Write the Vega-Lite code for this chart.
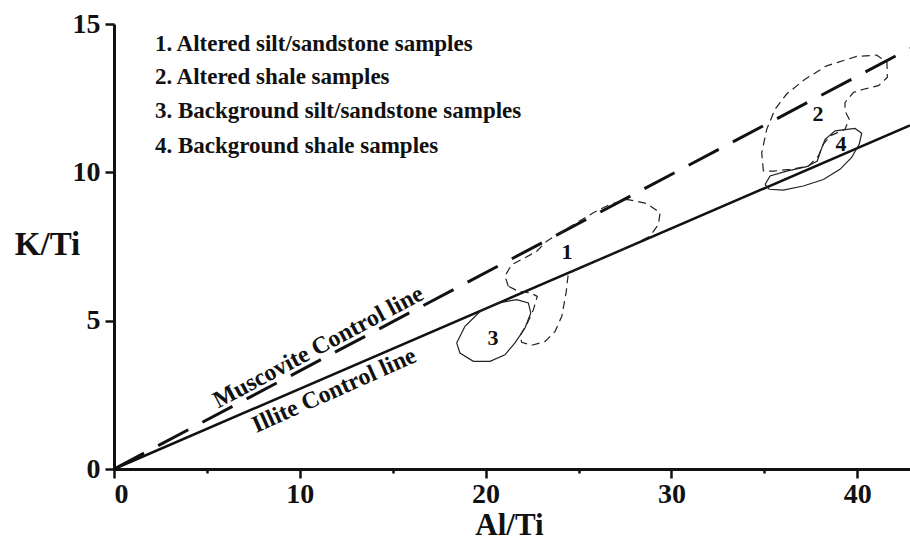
{
  "$schema": "https://vega.github.io/schema/vega-lite/v6.json",
  "width": 796,
  "height": 445,
  "autosize": {"type": "none"},
  "padding": {"left": 114, "top": 24, "right": 0, "bottom": 73},
  "background": "white",
  "config": {"view": {"stroke": null}, "font": "Liberation Serif"},
  "datasets": {
    "lines": [
      {"series": "Illite", "x": 0, "y": 0},
      {"series": "Illite", "x": 42.84, "y": 11.58},
      {"series": "Muscovite", "x": 0, "y": 0},
      {"series": "Muscovite", "x": 42.84, "y": 14.18}
    ],
    "regions": [
      {"region": 1, "o": 1, "x": 21.22, "y": 6.16},
      {"region": 1, "o": 2, "x": 21.04, "y": 6.5},
      {"region": 1, "o": 3, "x": 21.4, "y": 6.89},
      {"region": 1, "o": 4, "x": 22.12, "y": 7.12},
      {"region": 1, "o": 5, "x": 22.75, "y": 7.34},
      {"region": 1, "o": 6, "x": 23.29, "y": 7.68},
      {"region": 1, "o": 7, "x": 24.0, "y": 7.96},
      {"region": 1, "o": 8, "x": 24.9, "y": 8.3},
      {"region": 1, "o": 9, "x": 25.8, "y": 8.64},
      {"region": 1, "o": 10, "x": 26.7, "y": 8.92},
      {"region": 1, "o": 11, "x": 27.59, "y": 9.09},
      {"region": 1, "o": 12, "x": 28.67, "y": 8.95},
      {"region": 1, "o": 13, "x": 29.39, "y": 8.64},
      {"region": 1, "o": 14, "x": 29.3, "y": 8.24},
      {"region": 1, "o": 15, "x": 28.85, "y": 7.85},
      {"region": 1, "o": 16, "x": 27.59, "y": 7.46},
      {"region": 1, "o": 17, "x": 26.16, "y": 7.06},
      {"region": 1, "o": 18, "x": 24.45, "y": 6.59},
      {"region": 1, "o": 19, "x": 24.33, "y": 5.94},
      {"region": 1, "o": 20, "x": 24.1, "y": 5.15},
      {"region": 1, "o": 21, "x": 23.74, "y": 4.64},
      {"region": 1, "o": 22, "x": 23.2, "y": 4.3},
      {"region": 1, "o": 23, "x": 22.48, "y": 4.17},
      {"region": 1, "o": 24, "x": 21.94, "y": 4.27},
      {"region": 1, "o": 25, "x": 21.85, "y": 4.49},
      {"region": 1, "o": 26, "x": 22.25, "y": 4.92},
      {"region": 1, "o": 27, "x": 22.57, "y": 5.37},
      {"region": 1, "o": 28, "x": 22.78, "y": 5.82},
      {"region": 1, "o": 29, "x": 22.39, "y": 5.94},
      {"region": 1, "o": 30, "x": 21.76, "y": 5.99},
      {"region": 1, "o": 31, "x": 21.22, "y": 6.16},
      {"region": 2, "o": 1, "x": 34.95, "y": 10.04},
      {"region": 2, "o": 2, "x": 34.86, "y": 10.66},
      {"region": 2, "o": 3, "x": 35.13, "y": 11.45},
      {"region": 2, "o": 4, "x": 35.58, "y": 12.13},
      {"region": 2, "o": 5, "x": 36.2, "y": 12.64},
      {"region": 2, "o": 6, "x": 37.19, "y": 13.14},
      {"region": 2, "o": 7, "x": 38.36, "y": 13.59},
      {"region": 2, "o": 8, "x": 39.97, "y": 13.91},
      {"region": 2, "o": 9, "x": 41.05, "y": 13.95},
      {"region": 2, "o": 10, "x": 41.6, "y": 13.71},
      {"region": 2, "o": 11, "x": 41.62, "y": 13.2},
      {"region": 2, "o": 12, "x": 41.14, "y": 12.92},
      {"region": 2, "o": 13, "x": 40.33, "y": 12.8},
      {"region": 2, "o": 14, "x": 39.79, "y": 12.69},
      {"region": 2, "o": 15, "x": 39.34, "y": 12.35},
      {"region": 2, "o": 16, "x": 39.34, "y": 12.07},
      {"region": 2, "o": 17, "x": 39.57, "y": 11.79},
      {"region": 2, "o": 18, "x": 39.34, "y": 11.45},
      {"region": 2, "o": 19, "x": 38.54, "y": 11.23},
      {"region": 2, "o": 20, "x": 38.18, "y": 10.95},
      {"region": 2, "o": 21, "x": 37.91, "y": 10.55},
      {"region": 2, "o": 22, "x": 37.37, "y": 10.21},
      {"region": 2, "o": 23, "x": 36.38, "y": 10.1},
      {"region": 2, "o": 24, "x": 35.48, "y": 10.04},
      {"region": 2, "o": 25, "x": 34.95, "y": 10.04},
      {"region": 3, "o": 1, "x": 18.44, "y": 4.25},
      {"region": 3, "o": 2, "x": 18.89, "y": 4.81},
      {"region": 3, "o": 3, "x": 19.7, "y": 5.31},
      {"region": 3, "o": 4, "x": 20.68, "y": 5.6},
      {"region": 3, "o": 5, "x": 21.67, "y": 5.71},
      {"region": 3, "o": 6, "x": 22.3, "y": 5.6},
      {"region": 3, "o": 7, "x": 22.43, "y": 5.26},
      {"region": 3, "o": 8, "x": 22.12, "y": 4.75},
      {"region": 3, "o": 9, "x": 21.58, "y": 4.25},
      {"region": 3, "o": 10, "x": 21.04, "y": 3.85},
      {"region": 3, "o": 11, "x": 20.24, "y": 3.63},
      {"region": 3, "o": 12, "x": 19.34, "y": 3.63},
      {"region": 3, "o": 13, "x": 18.62, "y": 3.91},
      {"region": 3, "o": 14, "x": 18.44, "y": 4.25},
      {"region": 4, "o": 1, "x": 35.04, "y": 9.59},
      {"region": 4, "o": 2, "x": 35.31, "y": 9.88},
      {"region": 4, "o": 3, "x": 36.2, "y": 10.04},
      {"region": 4, "o": 4, "x": 37.28, "y": 10.19},
      {"region": 4, "o": 5, "x": 37.85, "y": 10.38},
      {"region": 4, "o": 6, "x": 38.03, "y": 10.72},
      {"region": 4, "o": 7, "x": 38.27, "y": 11.11},
      {"region": 4, "o": 8, "x": 38.81, "y": 11.4},
      {"region": 4, "o": 9, "x": 39.88, "y": 11.48},
      {"region": 4, "o": 10, "x": 40.24, "y": 11.32},
      {"region": 4, "o": 11, "x": 40.11, "y": 10.95},
      {"region": 4, "o": 12, "x": 39.7, "y": 10.5},
      {"region": 4, "o": 13, "x": 39.07, "y": 10.1},
      {"region": 4, "o": 14, "x": 38.18, "y": 9.76},
      {"region": 4, "o": 15, "x": 37.1, "y": 9.54},
      {"region": 4, "o": 16, "x": 36.02, "y": 9.4},
      {"region": 4, "o": 17, "x": 35.27, "y": 9.43},
      {"region": 4, "o": 18, "x": 35.04, "y": 9.59}
    ],
    "legend": [
      {"label": "1. Altered silt/sandstone samples", "x": 2.2, "y": 14.32},
      {"label": "2. Altered shale samples", "x": 2.2, "y": 13.21},
      {"label": "3. Background silt/sandstone samples", "x": 2.2, "y": 12.06},
      {"label": "4. Background shale samples", "x": 2.2, "y": 10.88}
    ],
    "numbers": [
      {"label": "1", "x": 24.38, "y": 7.33},
      {"label": "2", "x": 37.89, "y": 11.96},
      {"label": "3", "x": 20.4, "y": 4.43},
      {"label": "4", "x": 39.13, "y": 10.95}
    ],
    "muscLabel": [{"label": "Muscovite Control line", "x": 11.0, "y": 4.1}],
    "illLabel": [{"label": "Illite Control line", "x": 11.85, "y": 2.64}]
  },
  "encoding": {
    "x": {
      "field": "x", "type": "quantitative",
      "scale": {"domain": [0, 42.84], "nice": false, "zero": false},
      "axis": {
        "values": [0, 5, 10, 15, 20, 25, 30, 35, 40],
        "labelExpr": "datum.value % 10 === 0 ? datum.label : ''",
        "grid": false,
        "domainColor": "#111", "domainWidth": 3,
        "tickColor": "#111", "tickWidth": 2.5,
        "tickSize": {"condition": {"test": "datum.value % 10 !== 0", "value": 4}, "value": 9},
        "labelFont": "Liberation Serif", "labelFontWeight": "bold", "labelFontSize": 28,
        "labelColor": "#111", "labelPadding": 2,
        "title": "Al/Ti", "titleFont": "Liberation Serif", "titleFontWeight": "bold",
        "titleFontSize": 31, "titleColor": "#111",
        "titleX": 395, "titleY": 72, "titleBaseline": "bottom", "titleAlign": "center", "titleAnchor": null
      }
    },
    "y": {
      "field": "y", "type": "quantitative",
      "scale": {"domain": [0, 15], "nice": false, "zero": false},
      "axis": {
        "values": [0, 5, 10, 15],
        "grid": false,
        "domainColor": "#111", "domainWidth": 3,
        "tickColor": "#111", "tickWidth": 2.5, "tickSize": 9,
        "labelFont": "Liberation Serif", "labelFontWeight": "bold", "labelFontSize": 28,
        "labelColor": "#111", "labelPadding": 5,
        "title": "K/Ti", "titleFont": "Liberation Serif", "titleFontWeight": "bold",
        "titleFontSize": 33, "titleColor": "#111", "titleAngle": 0,
        "titleX": -67, "titleY": 220, "titleBaseline": "middle", "titleAlign": "center", "titleAnchor": null
      }
    }
  },
  "layer": [
    {
      "mark": {"type": "rule", "color": "#111", "strokeWidth": 3},
      "encoding": {"y": {"datum": 15}, "x": null}
    },
    {
      "data": {"name": "lines"},
      "transform": [{"filter": "datum.series === 'Illite'"}],
      "mark": {"type": "line", "color": "#111", "strokeWidth": 2.5},
      "encoding": {}
    },
    {
      "data": {"name": "lines"},
      "transform": [{"filter": "datum.series === 'Muscovite'"}],
      "mark": {"type": "line", "color": "#111", "strokeWidth": 3, "strokeDash": [34, 16]},
      "encoding": {}
    },
    {
      "data": {"name": "regions"},
      "transform": [{"filter": "datum.region <= 2"}],
      "mark": {"type": "line", "color": "#222", "strokeWidth": 1.2, "strokeDash": [8, 5]},
      "encoding": {"detail": {"field": "region"}, "order": {"field": "o", "type": "quantitative"}}
    },
    {
      "data": {"name": "regions"},
      "transform": [{"filter": "datum.region > 2"}],
      "mark": {"type": "line", "color": "#222", "strokeWidth": 1.2},
      "encoding": {"detail": {"field": "region"}, "order": {"field": "o", "type": "quantitative"}}
    },
    {
      "data": {"name": "legend"},
      "mark": {"type": "text", "align": "left", "baseline": "middle", "font": "Liberation Serif", "fontWeight": "bold", "fontSize": 23, "color": "#111"},
      "encoding": {"text": {"field": "label"}}
    },
    {
      "data": {"name": "numbers"},
      "mark": {"type": "text", "align": "center", "baseline": "middle", "font": "Liberation Serif", "fontWeight": "bold", "fontSize": 22, "color": "#111"},
      "encoding": {"text": {"field": "label"}}
    },
    {
      "data": {"name": "muscLabel"},
      "mark": {"type": "text", "align": "center", "baseline": "middle", "angle": 332, "font": "Liberation Serif", "fontWeight": "bold", "fontSize": 24, "color": "#111"},
      "encoding": {"text": {"field": "label"}}
    },
    {
      "data": {"name": "illLabel"},
      "mark": {"type": "text", "align": "center", "baseline": "middle", "angle": 336, "font": "Liberation Serif", "fontWeight": "bold", "fontSize": 24, "color": "#111"},
      "encoding": {"text": {"field": "label"}}
    }
  ]
}
